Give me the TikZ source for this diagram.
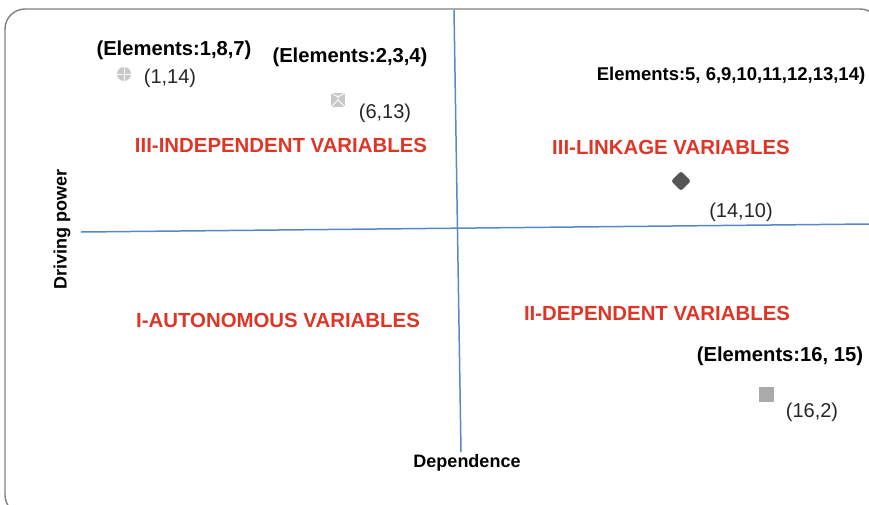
\documentclass[tikz,border=0pt]{standalone}
\usepackage{fontspec}
\setmainfont{Liberation Sans}
\usetikzlibrary{shapes.geometric}
\definecolor{framegray}{RGB}{128,128,128}
\definecolor{axisblue}{RGB}{88,136,200}
\definecolor{quadred}{RGB}{222,54,38}
\definecolor{lightmark}{RGB}{200,200,200}
\definecolor{darkmark}{RGB}{85,85,85}
\definecolor{midmark}{RGB}{170,170,170}
\tikzset{
  elemlabel/.style={font=\fontsize{20.2}{24}\selectfont\bfseries, text=black, inner sep=0pt},
  coordlabel/.style={font=\fontsize{20}{24}\selectfont, text=black!85, inner sep=0pt},
  quadlabel/.style={font=\fontsize{20.4}{24}\selectfont\bfseries, text=quadred, inner sep=0pt},
  axislabel/.style={font=\fontsize{18}{22}\selectfont\bfseries, text=black, inner sep=0pt},
  axisline/.style={draw=axisblue, line width=1.5pt},
}
\begin{document}
\begin{tikzpicture}[x=1pt, y=-1pt]
\useasboundingbox (0,0) rectangle (869,504);
% outer frame
\draw[framegray, line width=1.4pt, rounded corners=20pt] (5,9) rectangle (880,515);

% axes
\coordinate (hL) at (81,232);
\coordinate (hR) at (869,224);
\coordinate (vT) at (454,10);
\coordinate (vB) at (461,452);
\draw[axisline] (hL) -- (hR);
\draw[axisline] (vT) -- (vB);

% axis titles
\node[axislabel, rotate=90] (ylab) at (62,229) {Driving power};
\node[axislabel] (xlab) at (467,463) {Dependence};

% quadrant titles
\node[quadlabel] (q3a) at (281,145) {III-INDEPENDENT VARIABLES};
\node[quadlabel] (q3b) at (671,147) {III-LINKAGE VARIABLES};
\node[quadlabel] (q1) at (278,320) {I-AUTONOMOUS VARIABLES};
\node[quadlabel] (q2) at (657,313) {II-DEPENDENT VARIABLES};

% element groups
\node[elemlabel] (e187) at (174,50) {(Elements:1,8,7)};
\node[elemlabel] (e234) at (350,57) {(Elements:2,3,4)};
\node[elemlabel, font=\fontsize{18.5}{22}\selectfont\bfseries] (e5) at (731,76) {Elements:5, 6,9,10,11,12,13,14)};
\node[elemlabel] (e16) at (780,356) {(Elements:16, 15)};

% point (1,14)
\node[circle, fill=lightmark, minimum size=14pt, inner sep=0pt] (p1) at (124,74) {};
\draw[white!92!lightmark, line width=0.8pt] (p1.north) -- (p1.south) (p1.west) -- (p1.east);
\node[coordlabel] (c1) at (170,78) {(1,14)};

% point (6,13)
\node[rectangle, fill=lightmark, minimum size=14pt, inner sep=0pt] (p2) at (338,100) {};
\draw[white, line width=0.8pt] (p2.south west) -- (p2.center) -- (p2.south east)
  (p2.center) -- ([yshift=-2pt]p2.north) (p2.north west) -- ([yshift=3pt]p2.center) -- (p2.north east);
\node[coordlabel] (c2) at (385,113) {(6,13)};

% point (14,10)
\node[diamond, fill=darkmark, minimum size=20pt, inner sep=0pt, rounded corners=2.5pt] (p3) at (681,181) {};
\node[coordlabel] (c3) at (741,212) {(14,10)};

% point (16,2)
\node[rectangle, fill=midmark, minimum size=15pt, inner sep=0pt] (p4) at (766,394) {};
\node[coordlabel] (c4) at (812,412) {(16,2)};
\end{tikzpicture}
\end{document}
